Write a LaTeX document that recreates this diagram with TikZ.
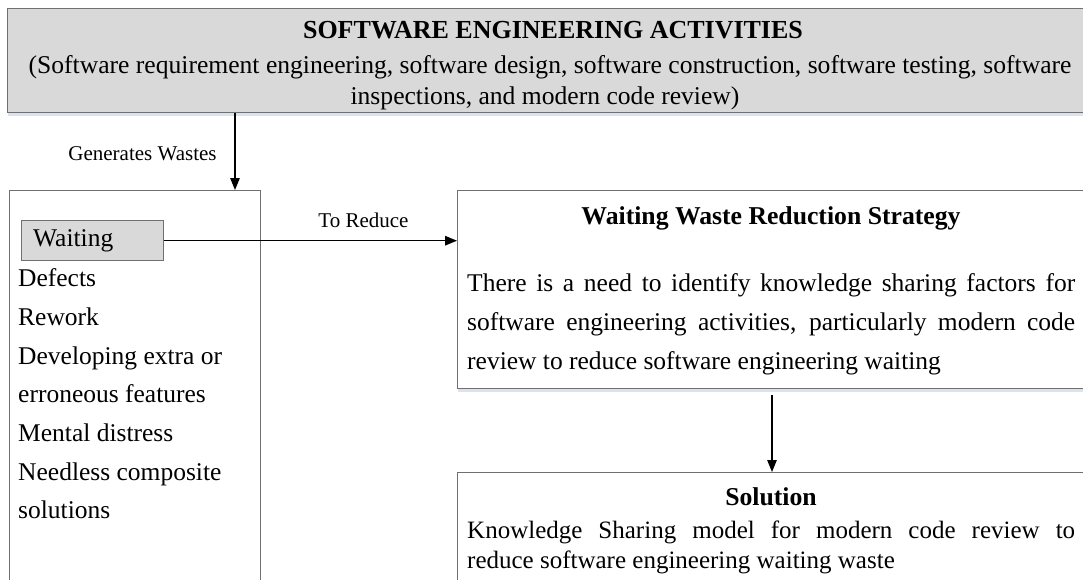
\documentclass[tikz,border=0pt]{standalone}
\usepackage{fontspec}
\setmainfont{Liberation Serif}
\usetikzlibrary{arrows.meta,shadows}
\definecolor{boxgray}{HTML}{D9D9D9}
\definecolor{edgegray}{HTML}{707070}
\definecolor{shadecol}{HTML}{DCE3EB}
\begin{document}
\begin{tikzpicture}[x=1pt,y=-1pt,
  box/.style={draw=edgegray,line width=1.4pt,inner sep=0pt,anchor=north west},
  shadowed/.style={drop shadow={shadow xshift=0pt,shadow yshift=-3.5pt,fill=shadecol,opacity=1}},
  arr/.style={-{Triangle[length=12pt,width=9.5pt]},line width=1.3pt,draw=black},
  lbl/.style={font=\fontsize{21}{25}\selectfont,inner sep=0pt,anchor=base},
  txt/.style={font=\fontsize{25.5}{38.7}\selectfont,inner sep=0pt,anchor=base west},
  hdr/.style={font=\fontsize{25.7}{30}\selectfont\bfseries,inner sep=0pt,anchor=base},
  scope/.style={font=\fontsize{25.6}{30}\selectfont,inner sep=0pt,anchor=base}]
\useasboundingbox (0,0) rectangle (1083,579);
\clip (0,0) rectangle (1083,579);

% boxes
\node[box,shadowed,fill=boxgray,minimum width=1100pt,minimum height=104pt] (top) at (7,8) {};
\node[box,fill=white,minimum width=251pt,minimum height=420pt] (left) at (9,190) {};
\node[box,shadowed,fill=white,minimum width=640pt,minimum height=198pt] (rone) at (457,190) {};
\node[box,fill=white,minimum width=640pt,minimum height=140pt] (sol) at (457,472) {};

% top box text
\node[hdr,font=\fontsize{26}{30}\selectfont\bfseries] (ttl) at (553,38.5) {SOFTWARE ENGINEERING ACTIVITIES};
\node[scope] (sc1) at (550,73) {(Software requirement engineering, software design, software construction, software testing, software};
\node[scope] (sc2) at (545,104) {inspections, and modern code review)};

% waiting box and list
\node[draw=edgegray,line width=1.4pt,fill=boxgray,minimum width=142pt,minimum height=40pt,
      text width=118pt,inner xsep=12pt,inner ysep=0pt,align=left,anchor=north west,
      font=\fontsize{25.5}{30}\selectfont] (wait) at (20.5,220) {Waiting};
\node[txt] (w1) at (18,286.7) {Defects};
\node[txt] (w2) at (18,325.4) {Rework};
\node[txt] (w3) at (18,364.1) {Developing extra or};
\node[txt] (w4) at (18,402.8) {erroneous features};
\node[txt] (w5) at (18,441.5) {Mental distress};
\node[txt] (w6) at (18,480.2) {Needless composite};
\node[txt] (w7) at (18,518.9) {solutions};

% strategy box
\node[hdr] (sth) at (771,224) {Waiting Waste Reduction Strategy};
\node[txt] (st1) at (467,291.5) {\makebox[608pt][s]{There is a need to identify knowledge sharing factors for}};
\node[txt] (st2) at (467,330.5) {\makebox[608pt][s]{software engineering activities, particularly modern code}};
\node[txt] (st3) at (467,369.5) {review to reduce software engineering waiting};

% solution box
\node[hdr] (soh) at (771,505) {Solution};
\node[txt,font=\fontsize{25}{30}\selectfont] (so1) at (467,538) {\makebox[608pt][s]{Knowledge Sharing model for modern code review to}};
\node[txt,font=\fontsize{25}{30}\selectfont] (so2) at (467,568) {reduce software engineering waiting waste};

% labels
\node[lbl] (gen) at (142.5,160) {Generates Wastes};
\node[lbl] (red) at (363.5,227.3) {To Reduce};

% connectors
\coordinate (c1) at (235,0);
\coordinate (c2) at (772,0);
\draw[arr] (c1 |- top.south) -- (c1 |- left.north);
\draw[arr] (wait.east) -- (wait.east -| rone.west);
\draw[arr,line width=1.1pt,shorten <=6pt] (c2 |- rone.south) -- (c2 |- sol.north);
\end{tikzpicture}
\end{document}
